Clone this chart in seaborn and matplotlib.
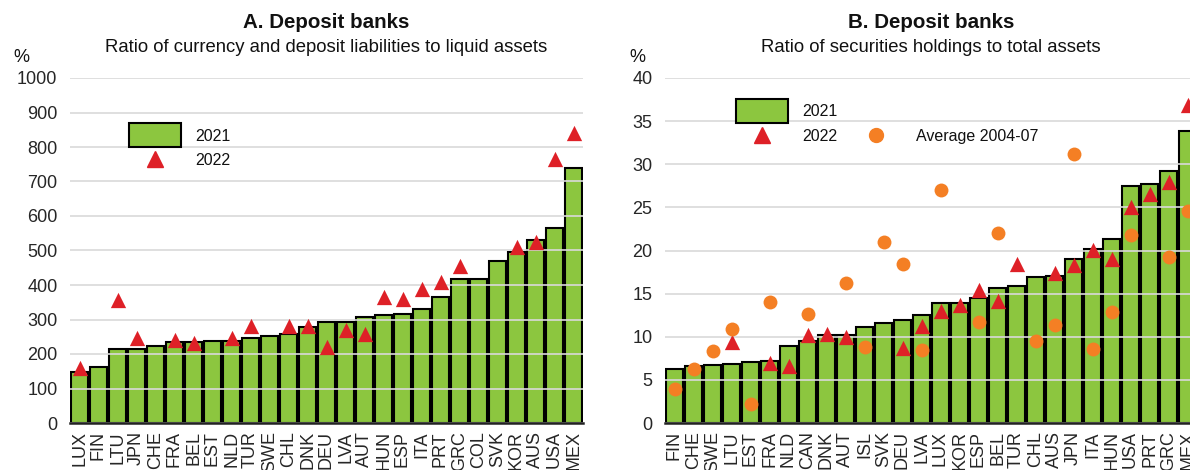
import numpy as np
import pandas as pd
import matplotlib
matplotlib.use("Agg")
import matplotlib.pyplot as plt
import seaborn as sns
from matplotlib.patches import Patch, Rectangle
from matplotlib.lines import Line2D
from matplotlib.legend_handler import HandlerPatch

# Panel A: currency and deposit liabilities / liquid assets (%)
countries_a = ["LUX", "FIN", "LTU", "JPN", "CHE", "FRA", "BEL", "EST", "NLD", "TUR",
               "SWE", "CHL", "DNK", "DEU", "LVA", "AUT", "HUN", "ESP", "ITA", "PRT",
               "GRC", "COL", "SVK", "KOR", "AUS", "USA", "MEX"]
a_2021 = [148, 162, 214, 215, 224, 236, 236, 239, 239, 246,
          252, 259, 277, 293, 293, 307, 314, 317, 330, 364,
          418, 418, 470, 495, 530, 565, 739]
a_2022 = [159, np.nan, 357, 246, np.nan, 240, 231, np.nan, 245, 280,
          np.nan, 280, 280, 220, 270, 259, 364, 360, 388, 409,
          454, np.nan, np.nan, 510, 525, 764, 841]

# Panel B: securities holdings / total assets (%)
countries_b = ["FIN", "CHE", "SWE", "LTU", "EST", "FRA", "NLD", "CAN", "DNK", "AUT",
               "ISL", "SVK", "DEU", "LVA", "LUX", "KOR", "ESP", "BEL", "TUR", "CHL",
               "AUS", "JPN", "ITA", "HUN", "USA", "PRT", "GRC", "MEX"]
b_2021 = [6.26, 6.64, 6.76, 6.84, 7.07, 7.14, 8.88, 9.46, 10.24, 10.24,
          11.13, 11.63, 11.94, 12.56, 13.87, 13.95, 14.49, 15.65, 15.92, 16.93,
          17.08, 19.01, 20.17, 21.37, 27.51, 27.67, 29.17, 33.81]
b_2022 = [np.nan, np.nan, np.nan, 9.43, np.nan, 6.99, 6.64, 10.2, 10.32, 9.93,
          np.nan, np.nan, 8.7, 11.28, 12.94, 13.72, 15.46, 14.14, 18.43, np.nan,
          17.39, 18.28, 20.09, 19.01, 25.08, 26.55, 27.94, 36.82]
b_avg = [3.94, 6.26, 8.38, 10.93, 2.2, 13.98, np.nan, 12.64, np.nan, 16.23,
         8.81, 21.02, 18.47, 8.5, 26.97, np.nan, 11.71, 22.03, np.nan, 9.54,
         11.32, 31.19, 8.58, 12.83, 21.75, np.nan, 19.2, 24.53]

GREEN = "#8CC63F"
RED = "#DE2027"
ORANGE = "#F47F24"
GRID = "#D9D9D9"

sns.set_style("white")
plt.rcParams["font.family"] = ["Liberation Sans", "DejaVu Sans"]
plt.rcParams["text.color"] = "#111111"

fig = plt.figure(figsize=(11.9, 4.7), dpi=100)
ax1 = fig.add_axes([70 / 1190, 47 / 470, 513 / 1190, 345 / 470])
ax2 = fig.add_axes([665 / 1190, 47 / 470, 532 / 1190, 345 / 470])


def draw_panel(ax, countries, bars, tri, dots=None):
    df = pd.DataFrame({"country": countries, "y2021": bars, "y2022": tri})
    sns.barplot(data=df, x="country", y="y2021", order=countries, color=GREEN,
                edgecolor="black", linewidth=1.5, width=0.9, saturation=1, ax=ax, zorder=1)
    d = df.dropna(subset=["y2022"])
    sns.stripplot(data=d, x="country", y="y2022", order=countries, jitter=False,
                  marker="^", color=RED, size=11, linewidth=0, ax=ax, zorder=4)
    if dots is not None:
        df["avg"] = dots
        d2 = df.dropna(subset=["avg"])
        sns.stripplot(data=d2, x="country", y="avg", order=countries, jitter=False,
                      marker="o", color=ORANGE, size=10, linewidth=0, ax=ax, zorder=5)
    ax.set_xlim(-0.5, len(countries) - 0.5)
    ax.set_axisbelow(False)
    ax.yaxis.grid(True, color=GRID, linewidth=1.2, zorder=2)
    ax.xaxis.grid(False)
    for s in ["left", "right", "top"]:
        ax.spines[s].set_visible(False)
    ax.spines["bottom"].set_color("#222222")
    ax.spines["bottom"].set_linewidth(1.8)
    ax.spines["bottom"].set_zorder(6)
    ax.set_xlabel("")
    ax.set_ylabel("")
    ax.tick_params(axis="x", rotation=90, labelsize=13, length=0, pad=6)
    ax.tick_params(axis="y", labelsize=13, length=0, pad=9)


draw_panel(ax1, countries_a, a_2021, a_2022)
ax1.set_ylim(0, 1000)
ax1.set_yticks(range(0, 1001, 100))

draw_panel(ax2, countries_b, b_2021, b_2022, b_avg)
ax2.set_ylim(0, 40)
ax2.set_yticks(range(0, 41, 5))

# titles
for ax, title, sub in [(ax1, "A. Deposit banks", "Ratio of currency and deposit liabilities to liquid assets"),
                       (ax2, "B. Deposit banks", "Ratio of securities holdings to total assets")]:
    pos = ax.get_position()
    cx = pos.x0 + pos.width / 2
    fig.text(cx, 1 - 22 / 470, title, ha="center", va="center", fontsize=14.8, fontweight="bold")
    fig.text(cx, 1 - 47 / 470, sub, ha="center", va="center", fontsize=13.3)

fig.text(21 / 1190, 1 - 57 / 470, "%", ha="center", va="center", fontsize=13)
fig.text(637 / 1190, 1 - 57 / 470, "%", ha="center", va="center", fontsize=13)


# legends
def tall_rect(legend, orig_handle, xdescent, ydescent, width, height, fontsize):
    return Rectangle((-xdescent, -ydescent - 3.5), width, height + 7)


bar_h = Patch(facecolor=GREEN, edgecolor="black", linewidth=1.5)
tri_h = Line2D([], [], marker="^", color=RED, linestyle="none", markersize=11)
dot_h = Line2D([], [], marker="o", color=ORANGE, linestyle="none", markersize=10)
blank = Patch(facecolor="none", edgecolor="none")
hmap = {bar_h: HandlerPatch(patch_func=tall_rect)}

leg_kw = dict(loc="upper left", frameon=False, fontsize=11.5, handlelength=3.25,
              handleheight=1.0, labelspacing=0.55, handletextpad=0.88,
              borderpad=0, borderaxespad=0, handler_map=hmap)
ax1.legend([bar_h, tri_h], ["2021", "2022"], bbox_to_anchor=(0.115, 0.855), **leg_kw)
ax2.legend([bar_h, tri_h, blank, dot_h], ["2021", "2022", "", "Average 2004-07"],
           ncol=2, bbox_to_anchor=(0.1335, 0.925), columnspacing=0.8, **leg_kw)

fig.savefig("out.png", dpi=100)
